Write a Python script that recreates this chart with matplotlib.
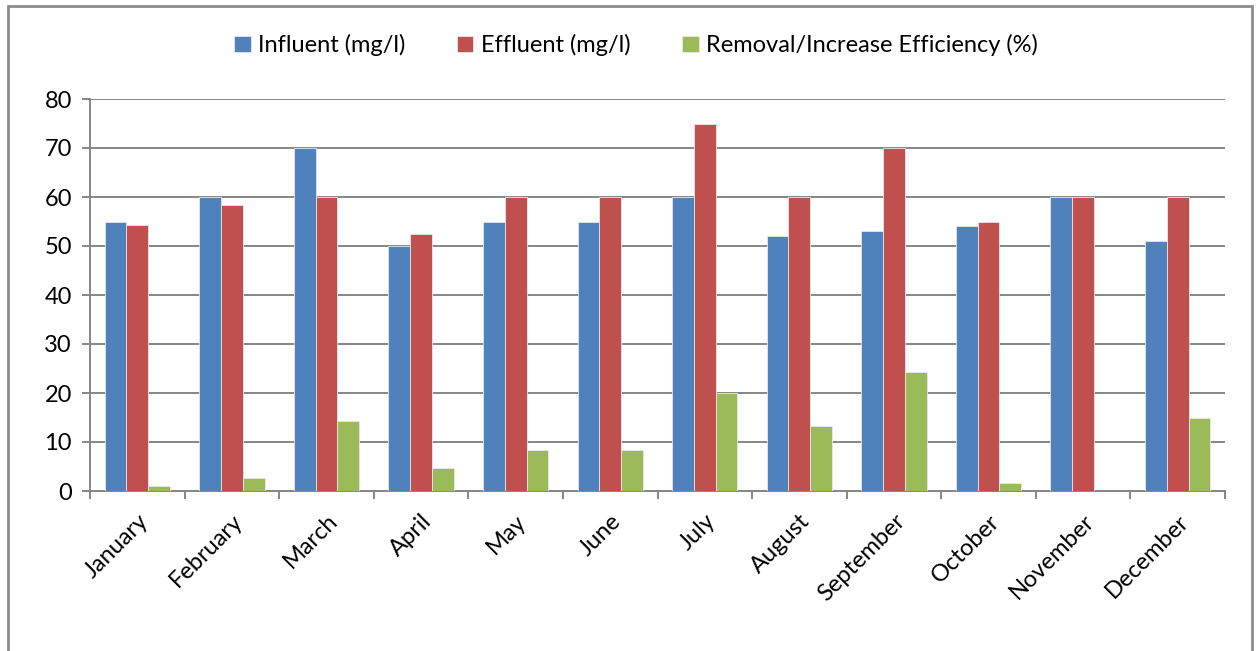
import numpy as np
import matplotlib.pyplot as plt
from matplotlib.patches import Rectangle

# --- Data ---
months = ['January', 'February', 'March', 'April', 'May', 'June',
          'July', 'August', 'September', 'October', 'November', 'December']
influent = [55, 60, 70, 50, 55, 55, 60, 52, 53, 54, 60, 51]
effluent = [54.3, 58.3, 60, 52.4, 60, 60, 75, 60, 70, 55, 60, 60]
efficiency = [1.1, 2.7, 14.2, 4.6, 8.3, 8.3, 20, 13.2, 24.2, 1.7, 0, 14.9]

series_names = ['Influent (mg/l)', 'Effluent (mg/l)', 'Removal/Increase Efficiency (%)']
colors = ['#4F81BD', '#C0504D', '#9BBB59']

plt.rcParams['font.family'] = ['Lato', 'DejaVu Sans']

fig = plt.figure(figsize=(12.59, 6.51), dpi=100)
ax = fig.add_axes([90 / 1259, 1 - 491 / 651, 1135 / 1259, 392 / 651])

x = np.arange(len(months))
w = 0.23
for i, (vals, name, c) in enumerate(zip([influent, effluent, efficiency], series_names, colors)):
    ax.bar(x + (i - 1) * w, vals, width=w, color=c, edgecolor='#E8E8E8',
           linewidth=0.6, label=name, zorder=3)

ax.set_xlim(-0.5, len(months) - 0.5)
ax.set_ylim(0, 80)
ax.set_yticks(range(0, 81, 10))
ax.yaxis.grid(True, color='#868686', linewidth=1.4, zorder=0)
ax.set_axisbelow(True)

# category boundary ticks on x
ax.set_xticks(np.arange(-0.5, len(months), 1.0))
ax.set_xticklabels([])
ax.set_xticks(x, minor=True)
ax.set_xticklabels(months, minor=True, rotation=45, ha='right',
                   rotation_mode='anchor', fontsize=17)
ax.tick_params(axis='x', which='minor', length=0, pad=14)
ax.tick_params(axis='x', which='major', length=6, color='#868686', width=1.4)
ax.tick_params(axis='y', length=6, color='#868686', width=1.4, labelsize=17, pad=7)

for s in ['top', 'right']:
    ax.spines[s].set_visible(False)
for s in ['left', 'bottom']:
    ax.spines[s].set_color('#868686')
    ax.spines[s].set_linewidth(1.4)

fig.legend(loc='center', bbox_to_anchor=(0.505, 1 - 45 / 651), ncol=3,
           frameon=False, fontsize=17, handlelength=0.7, handleheight=0.7,
           handletextpad=0.3, columnspacing=2.2)

# outer chart border
fig.patches.append(Rectangle((8 / 1259, -0.05), 1244 / 1259, 1.05 - 6 / 651,
                             transform=fig.transFigure, fill=False,
                             edgecolor='#8C8C8C', linewidth=2))

fig.savefig('out.png', dpi=100)
